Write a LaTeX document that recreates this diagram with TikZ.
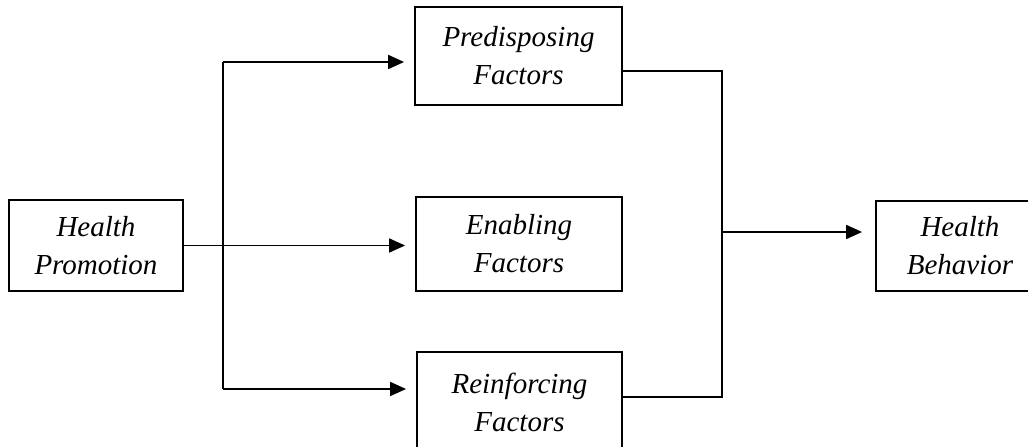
\documentclass[tikz,border=0pt]{standalone}
\usepackage{fontspec}
\setmainfont{Liberation Serif}
\usetikzlibrary{arrows.meta}
\tikzset{
  box/.style={draw, line width=1.8pt, align=center, inner sep=0pt,
    font=\fontsize{29}{38}\selectfont\itshape},
  conn/.style={line width=1.8pt},
  arr/.style={conn, -{Triangle[length=16pt,width=14pt]}}
}
\begin{document}
\begin{tikzpicture}[x=1pt,y=1pt]
\useasboundingbox (0,0) rectangle (1028,447);
\clip (0,0) rectangle (1028,447);
\fill[white] (0,0) rectangle (1028,447);
\node[box, minimum width=174pt, minimum height=91pt] (hp) at (96,201.5) {Health\\Promotion};
\node[box, minimum width=207pt, minimum height=98pt] (pred) at (518.5,391) {Predisposing\\Factors};
\node[box, minimum width=206pt, minimum height=94pt] (enab) at (519,203) {Enabling\\Factors};
\node[box, minimum width=205pt, minimum height=100pt] (reinf) at (519.5,45) {Reinforcing\\Factors};
\node[box, minimum width=168pt, minimum height=90pt] (hb) at (960,201) {Health\\Behavior};
% left distribution
\coordinate (lt) at (223,385);
\coordinate (lb) at (223,58);
\draw[conn] (lt) -- (lb);
\draw[arr, shorten >=10pt] (lt) -- (lt -| pred.west);
\draw[arr, shorten >=10pt] (lb) -- (lb -| reinf.west);
\draw[arr, shorten >=10pt] (hp.east) -- (hp.east -| enab.west);
% right collection
\coordinate (rt) at (722,376);
\coordinate (rb) at (722,50);
\coordinate (rm) at (722,215);
\draw[conn] (rt -| pred.east) -- (rt) -- (rb) -- (rb -| reinf.east);
\draw[arr, shorten >=13pt] (rm) -- (rm -| hb.west);
\end{tikzpicture}
\end{document}
